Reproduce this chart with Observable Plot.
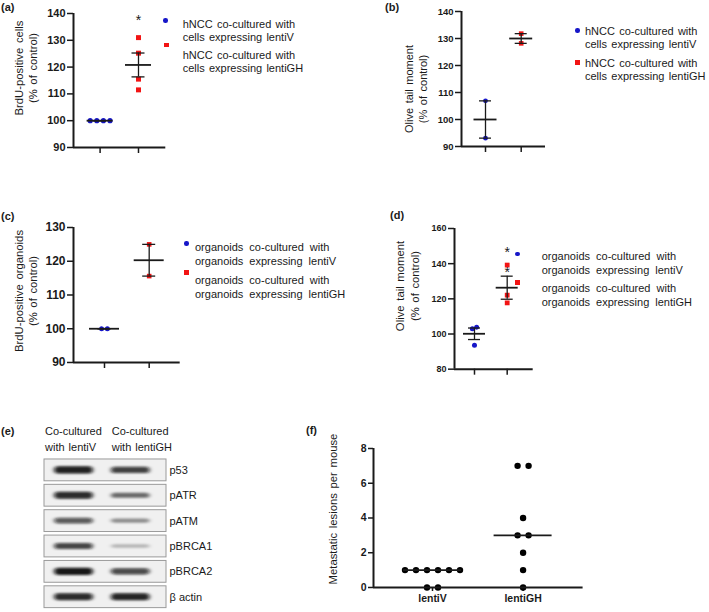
<!DOCTYPE html>
<html><head><meta charset="utf-8">
<script src="https://cdn.jsdelivr.net/npm/d3@7"></script>
<script src="https://cdn.jsdelivr.net/npm/@observablehq/plot@0.6"></script>
<style>
body{margin:0;background:#fff;}
#fig{position:relative;width:709px;height:612px;font-family:"Liberation Sans",Arial,sans-serif;color:#1a1a1a;overflow:hidden;background:#fff}
.abs{position:absolute;white-space:nowrap}
.pl{font-weight:bold;font-size:11px;line-height:14px}
svg{overflow:visible}
</style></head><body><div id="fig"></div>
<script>
// ---------------- data ----------------
const groups = ["lentiV", "lentiGH"];
// (a) BrdU-positive cells (% of control)
const a_lentiV = [100, 100, 100, 100];
const a_lentiGH = [131, 125.2, 115.5, 111.5];
const a_stars = [138.5];
const a_ticks = [90, 100, 110, 120, 130, 140];
// (b) Olive tail moment (% of control)
const b_lentiV = [106.9, 93.1];
const b_lentiGH = [131.8, 128.2];
const b_ticks = [90, 100, 110, 120, 130, 140];
// (c) BrdU-positive organoids (% of control)
const c_lentiV = [100, 100];
const c_lentiGH = [125, 115.6];
const c_ticks = [90, 100, 110, 120, 130];
// (d) Olive tail moment (% of control), organoids
const d_lentiV = [103.0, 103.8, 93.6];
const d_lentiGH = [139.2, 122.1, 117.7];
const d_stars = [148.1, 136.7];
const d_ticks = [80, 100, 120, 140, 160];
// (e) western blot, relative band intensity
const proteins = ["p53", "pATR", "pATM", "pBRCA1", "pBRCA2", "β actin"];
const blot_lentiV = [0.9, 0.85, 0.62, 0.72, 0.95, 0.85];
const blot_lentiGH = [0.75, 0.5, 0.33, 0.15, 0.7, 0.88];
// (f) Metastatic lesions per mouse
const f_lentiV = [1, 1, 1, 1, 1, 1, 0, 0];
const f_lentiGH = [7, 7, 4, 3, 3, 2, 1, 0];
const f_ticks = [0, 2, 4, 6, 8];

const BLUE = "#1616c8", RED = "#f21414", INK = "#1a1a1a";
const FONT = '"Liberation Sans", Arial, sans-serif';
const fig = document.getElementById("fig");

function addDiv(html, css) {
  const d = document.createElement("div");
  d.className = "abs";
  d.innerHTML = html;
  d.style.cssText += css;
  fig.appendChild(d);
  return d;
}
function vLabel(lines, cx, cy, fs = 11, lh = 14) {
  addDiv(lines.join("<br>"), `left:${cx}px;top:${cy}px;transform:translate(-50%,-50%) rotate(-90deg);font-size:${fs}px;line-height:${lh}px;text-align:center;word-spacing:1.5px;`);
}
function panelLabel(t, left, cy) {
  const d = addDiv(t, `left:${left}px;top:${cy - 7}px;`);
  d.classList.add("pl");
}
function legend(entries, textLeft, lh, ws) {
  entries.forEach(e => {
    addDiv(e.lines.join("<br>"), `left:${textLeft}px;top:${e.top}px;font-size:11px;line-height:${lh}px;word-spacing:${ws}px;`);
    const s = e.size;
    addDiv("", `left:${e.mx - s / 2}px;top:${e.my - s / 2}px;width:${s}px;height:${s}px;background:${e.color};border-radius:${e.round ? "50%" : "0"};`);
  });
}

function spread(values, pxPerY, tolPx, stepPx) {
  const idx = d3.range(values.length).sort((a, b) => values[a] - values[b]);
  const offs = new Array(values.length).fill(0);
  let cluster = [idx[0]];
  const flush = () => { const n = cluster.length; cluster.forEach((j, k) => offs[j] = (k - (n - 1) / 2) * stepPx); };
  for (let t = 1; t < idx.length; t++) {
    const j = idx[t];
    if ((values[j] - values[cluster[cluster.length - 1]]) * pxPerY < tolPx) cluster.push(j);
    else { flush(); cluster = [j]; }
  }
  flush();
  return offs;
}

function scatterPanel(o) {
  const unit = o.cat1 - o.cat0;
  const xd = [(o.axisX0 - o.cat0) / unit, (o.axisX1 - o.cat0) / unit];
  const marginLeft = 40, marginRight = 12, marginTop = 12, marginBottom = 28;
  const svgLeft = o.axisX0 - marginLeft;
  const svgTop = o.yTop - marginTop;
  const width = o.axisX1 - svgLeft + marginRight;
  const height = o.yBottom - svgTop + marginBottom;
  const pxPerY = (o.yBottom - o.yTop) / (o.yDomain[1] - o.yDomain[0]);
  const marks = [];
  const stats = [];
  o.series.forEach((s, gi) => {
    const offs = spread(s.values, pxPerY, 2 * s.r, o.stepPx);
    const pts = s.values.map((v, k) => ({x: gi + offs[k] / unit, y: v}));
    marks.push(Plot.dot(pts, {x: "x", y: "y", r: s.r, fill: s.color, symbol: s.symbol, stroke: "none"}));
    const m = o.median ? d3.median(s.values) : d3.mean(s.values);
    const sem = o.median ? 0 : d3.deviation(s.values) / Math.sqrt(s.values.length);
    stats.push({i: gi, mean: m, lo: m - sem, hi: m + sem});
  });
  const mh = o.meanHalf / unit, ch = (o.capHalf || 6) / unit;
  if (!o.median) {
    marks.push(Plot.ruleX(stats, {x: "i", y1: "lo", y2: "hi", stroke: INK, strokeWidth: 1.3}));
    marks.push(Plot.ruleY(stats, {y: "lo", x1: d => d.i - ch, x2: d => d.i + ch, stroke: INK, strokeWidth: 1.3}));
    marks.push(Plot.ruleY(stats, {y: "hi", x1: d => d.i - ch, x2: d => d.i + ch, stroke: INK, strokeWidth: 1.3}));
  }
  marks.push(Plot.ruleY(stats, {y: "mean", x1: d => d.i - mh, x2: d => d.i + mh, stroke: INK, strokeWidth: 1.8}));
  if (o.stars) marks.push(Plot.text(o.stars, {x: () => 1, y: d => d, text: () => "*", fontSize: 14, fontWeight: "normal", dy: 3, fill: INK}));
  const plot = Plot.plot({
    width, height, marginLeft, marginRight, marginTop, marginBottom,
    style: {fontFamily: FONT, fontSize: o.fs + "px", fontWeight: "bold", color: INK, background: "transparent", overflow: "visible"},
    x: {type: "linear", domain: xd},
    y: {type: "linear", domain: o.yDomain},
    marks: [
      Plot.axisY({ticks: o.yTicks, tickSize: o.tickSize || 6, tickPadding: 2, label: null, strokeWidth: 1.5, fontSize: o.fs}),
      Plot.axisX({ticks: [0, 1], tickSize: o.xTickSize || 6, tickPadding: 3, label: null, strokeWidth: 1.5, fontSize: o.xfs || o.fs,
        tickFormat: o.xLabels ? (i => o.xLabels[i]) : (() => "")}),
      ...marks,
      Plot.ruleY([o.yDomain[0]], {stroke: INK, strokeWidth: 2}),
      Plot.ruleX([xd[0]], {stroke: INK, strokeWidth: 2})
    ]
  });
  plot.style.position = "absolute";
  plot.style.left = svgLeft + "px";
  plot.style.top = svgTop + "px";
  fig.appendChild(plot);
}

// ---------- (a) ----------
scatterPanel({axisX0: 72.7, axisX1: 165, cat0: 99.3, cat1: 137.7, yTop: 12.7, yBottom: 146.7,
  yDomain: [90, 140], yTicks: a_ticks, fs: 11, stepPx: 6.6, meanHalf: 13, capHalf: 6.5, stars: a_stars,
  series: [{values: a_lentiV, color: BLUE, symbol: "circle", r: 2.6}, {values: a_lentiGH, color: RED, symbol: "square", r: 2.8}]});
panelLabel("(a)", 1, 7);
vLabel(["BrdU-positive cells", "(% of control)"], 26, 67.5, 11.3);
legend([
  {lines: ["hNCC co-cultured with", "cells expressing lentiV"], top: 17.5, mx: 165.7, my: 20.7, size: 4.5, color: BLUE, round: true},
  {lines: ["hNCC co-cultured with", "cells expressing lentiGH"], top: 48.5, mx: 166.7, my: 45, size: 4.5, color: RED, round: false}
], 182.7, 13, 1.2);

// ---------- (b) ----------
scatterPanel({axisX0: 461, axisX1: 545, cat0: 485, cat1: 520.7, yTop: 10.7, yBottom: 145.7,
  yDomain: [90, 140], yTicks: b_ticks, fs: 9.5, stepPx: 5, meanHalf: 11.5, capHalf: 6,
  series: [{values: b_lentiV, color: BLUE, symbol: "circle", r: 2.4}, {values: b_lentiGH, color: RED, symbol: "square", r: 2.6}]});
panelLabel("(b)", 385, 7.3);
vLabel(["Olive tail moment", "(% of control)"], 416, 88.7, 11);
legend([
  {lines: ["hNCC co-cultured with", "cells expressing lentiV"], top: 25.2, mx: 577.7, my: 30.7, size: 4.5, color: BLUE, round: true},
  {lines: ["hNCC co-cultured with", "cells expressing lentiGH"], top: 56.8, mx: 577.7, my: 62.7, size: 4.5, color: RED, round: false}
], 585, 12.8, 1.2);

// ---------- (c) ----------
scatterPanel({axisX0: 73.3, axisX1: 180, cat0: 104.3, cat1: 149, yTop: 227.3, yBottom: 362.3,
  yDomain: [90, 130], yTicks: c_ticks, fs: 12, stepPx: 5.7, meanHalf: 15, capHalf: 6.5,
  series: [{values: c_lentiV, color: BLUE, symbol: "circle", r: 2.5}, {values: c_lentiGH, color: RED, symbol: "square", r: 2.6}]});
panelLabel("(c)", 1, 216);
vLabel(["BrdU-positive organoids", "(% of control)"], 26.2, 290.5, 11.3);
legend([
  {lines: ["organoids co-cultured with", "organoids expressing lentiV"], top: 239.7, mx: 186.7, my: 243.3, size: 4.5, color: BLUE, round: true},
  {lines: ["organoids co-cultured with", "organoids expressing lentiGH"], top: 273, mx: 186.7, my: 272.7, size: 4.5, color: RED, round: false}
], 195, 14, 3);

// ---------- (d) ----------
scatterPanel({axisX0: 454, axisX1: 532.7, cat0: 474, cat1: 506.7, yTop: 228.3, yBottom: 369,
  yDomain: [80, 160], yTicks: d_ticks, fs: 9, stepPx: 4.3, meanHalf: 11, capHalf: 6, stars: d_stars,
  series: [{values: d_lentiV, color: BLUE, symbol: "circle", r: 2.5}, {values: d_lentiGH, color: RED, symbol: "square", r: 2.7}]});
panelLabel("(d)", 390, 215);
vLabel(["Olive tail moment", "(% of control)"], 407.5, 285.8, 11.3, 15);
legend([
  {lines: ["organoids co-cultured with", "organoids expressing lentiV"], top: 248.9, mx: 517.7, my: 254, size: 4.5, color: BLUE, round: true},
  {lines: ["organoids co-cultured with", "organoids expressing lentiGH"], top: 281.2, mx: 517.7, my: 282.7, size: 4.5, color: RED, round: false}
], 541.7, 14.3, 3);

// ---------- (e) western blot ----------
(function () {
  const xd = [-0.52, 1.63];
  const rows = proteins.map((p, i) => ({i, p}));
  const bands = [];
  proteins.forEach((p, i) => {
    bands.push({i, lane: 0, v: blot_lentiV[i]});
    bands.push({i, lane: 1, v: blot_lentiGH[i]});
  });
  const plot = Plot.plot({
    width: 215, height: 157, marginLeft: 44, marginRight: 49, marginTop: 2.2, marginBottom: 2.6,
    style: {fontFamily: FONT, fontSize: "11px", color: INK, background: "transparent", overflow: "visible"},
    x: {type: "linear", domain: xd, axis: null},
    y: {type: "linear", domain: [-0.5, 5.5], reverse: true, axis: null},
    marks: [
      Plot.rect(rows, {x1: () => xd[0], x2: () => xd[1], y1: d => d.i - 0.43, y2: d => d.i + 0.43, fill: "#f0f0f0", stroke: "#9a9a9a", strokeWidth: 1}),
      Plot.rect(bands, {x1: d => d.lane - 0.34, x2: d => d.lane + 0.34,
        y1: d => d.i - (0.05 + 0.1 * d.v), y2: d => d.i + (0.05 + 0.1 * d.v),
        fill: "#0a0a0a", fillOpacity: d => 0.12 + 0.88 * d.v, rx: 4, ariaLabel: "bands"}),
      Plot.text(rows, {x: () => xd[1], y: "i", text: "p", dx: 3, textAnchor: "start", fontSize: 11})
    ]
  });
  // soften the band edges with an SVG gaussian blur
  const ns = "http://www.w3.org/2000/svg";
  const defs = document.createElementNS(ns, "defs");
  const filt = document.createElementNS(ns, "filter");
  filt.setAttribute("id", "bandblur");
  filt.setAttribute("filterUnits", "userSpaceOnUse");
  filt.setAttribute("x", "0"); filt.setAttribute("y", "0");
  filt.setAttribute("width", "215"); filt.setAttribute("height", "157");
  const gb = document.createElementNS(ns, "feGaussianBlur");
  gb.setAttribute("stdDeviation", "2 1");
  filt.appendChild(gb); defs.appendChild(filt); plot.insertBefore(defs, plot.firstChild);
  let g = plot.querySelector('g[aria-label="bands"]');
  if (!g) g = plot.querySelectorAll('g[aria-label="rect"]')[1];
  if (g) g.setAttribute("filter", "url(#bandblur)");
  plot.style.position = "absolute";
  plot.style.left = "0px";
  plot.style.top = "455px";
  fig.appendChild(plot);
  addDiv("Co-cultured<br>with lentiV", "left:45px;top:424px;font-size:11px;line-height:15.6px;word-spacing:1px;");
  addDiv("Co-cultured<br>with lentiGH", "left:111.7px;top:424px;font-size:11px;line-height:15.6px;word-spacing:1px;");
})();
panelLabel("(e)", 1, 430.7);

// ---------- (f) ----------
scatterPanel({axisX0: 372.7, axisX1: 582.3, cat0: 431.7, cat1: 522.3, yTop: 447.7, yBottom: 586.7,
  yDomain: [0, 8], yTicks: f_ticks, fs: 10.5, xfs: 10.5, stepPx: 11, meanHalf: 29, median: true,
  tickSize: 5, xTickSize: 4, xLabels: groups,
  series: [{values: f_lentiV, color: "#000", symbol: "circle", r: 3.2}, {values: f_lentiGH, color: "#000", symbol: "circle", r: 3.2}]});
panelLabel("(f)", 306, 430);
vLabel(["Metastatic lesions per mouse"], 333.3, 509, 11.3);
</script></body></html>
